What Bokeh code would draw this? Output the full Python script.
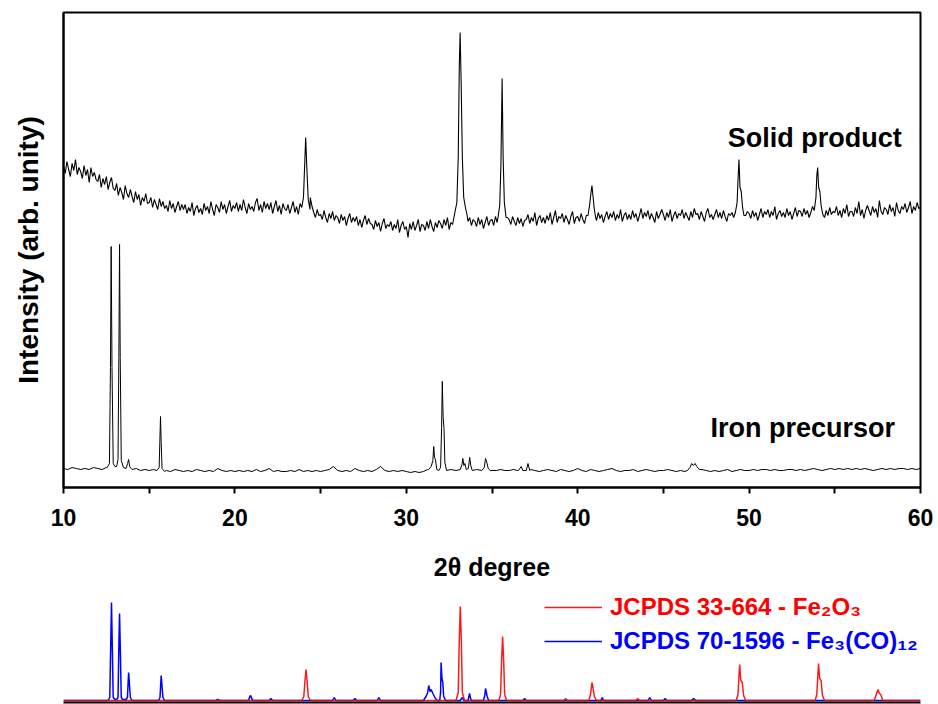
import numpy as np
from bokeh.plotting import figure
from bokeh.models import Range1d, FixedTicker, Label, Legend, LegendItem
from bokeh.layouts import column
from bokeh.embed import file_html
from bokeh.resources import INLINE

FONT = "Liberation Sans"

# ---------------- data ----------------
# Solid product: background read on a 0.1 degree grid, 10.0 .. 60.0
solid_grid_start = 10.0
solid_grid_step = 0.1
solid_bg = [
    322, 314, 326, 318, 311, 324, 317, 328, 313, 320,
    316, 309, 322, 312, 318, 305, 320, 311, 315, 308,
    306, 313, 300, 309, 303, 311, 298, 305, 310, 299,
    297, 304, 292, 300, 295, 288, 302, 294, 290, 298,
    291, 285, 296, 288, 293, 282, 290, 286, 294, 284,
    285, 290, 280, 288, 283, 278, 289, 281, 286, 279,
    282, 276, 287, 279, 284, 275, 281, 286, 277, 283,
    278, 283, 274, 280, 276, 285, 272, 279, 282, 275,
    279, 273, 284, 277, 281, 274, 286, 278, 272, 283,
    280, 275, 286, 278, 283, 274, 281, 287, 276, 282,
    279, 285, 276, 283, 277, 288, 280, 274, 284, 278,
    281, 276, 285, 289, 277, 283, 275, 286, 279, 284,
    278, 285, 274, 281, 287, 276, 282, 273, 284, 279,
    277, 283, 274, 280, 286, 275, 281, 273, 284, 278,
    276, 282, 279, 283, 290, 281, 275, 270, 278, 272,
    273, 268, 277, 270, 265, 274, 269, 276, 267, 272,
    270, 264, 273, 267, 271, 262, 269, 274, 265, 270,
    266, 271, 262, 268, 260, 267, 272, 263, 269, 264,
    263, 258, 267, 261, 265, 256, 264, 269, 259, 263,
    261, 266, 257, 263, 259, 268, 255, 262, 266, 258,
    261, 250, 264, 258, 266, 257, 262, 268, 256, 263,
    262, 257, 266, 259, 268, 261, 256, 265, 260, 267,
    264, 259, 268, 262, 270, 258, 265, 263, 269, 266,
    268, 275, 271, 277, 272, 274, 266, 270, 262, 268,
    266, 261, 270, 263, 268, 259, 265, 271, 262, 267,
    268, 262, 271, 265, 274, 272, 276, 272, 266, 270,
    268, 263, 271, 266, 262, 270, 264, 269, 261, 267,
    268, 273, 264, 270, 266, 275, 262, 269, 272, 265,
    270, 264, 272, 267, 275, 263, 270, 277, 265, 271,
    269, 274, 265, 272, 268, 263, 271, 276, 264, 270,
    271, 266, 274, 268, 264, 272, 276, 273, 269, 275,
    272, 267, 275, 269, 273, 265, 271, 276, 268, 274,
    270, 276, 267, 273, 269, 278, 266, 272, 275, 268,
    273, 268, 277, 270, 274, 266, 272, 279, 269, 275,
    271, 277, 268, 274, 270, 265, 276, 269, 273, 278,
    273, 267, 275, 270, 278, 266, 272, 276, 269, 274,
    272, 278, 269, 275, 271, 267, 276, 270, 279, 273,
    274, 268, 276, 271, 266, 275, 279, 270, 273, 268,
    273, 278, 270, 275, 269, 277, 271, 266, 274, 272,
    275, 270, 278, 274, 277, 271, 276, 278, 272, 276,
    274, 269, 277, 271, 275, 267, 273, 279, 270, 276,
    273, 278, 270, 276, 272, 281, 268, 274, 277, 271,
    275, 270, 279, 272, 276, 268, 274, 280, 271, 277,
    276, 271, 279, 273, 277, 270, 275, 281, 274, 279,
    276, 278, 275, 274, 270, 277, 272, 280, 273, 276,
    275, 281, 272, 277, 270, 279, 274, 283, 271, 276,
    276, 271, 280, 274, 286, 272, 278, 269, 277, 282,
    277, 272, 281, 275, 279, 270, 287, 276, 273, 280,
    278, 273, 283, 276, 280, 271, 285, 277, 274, 281,
    278, 284, 275, 280, 286, 274, 281, 277, 285, 279,
    280,
]
# Solid product peaks (x, intensity) read point by point
solid_peaks = [
    [(23.9, 280), (24.0, 290), (24.07, 322), (24.13, 350), (24.2, 318), (24.28, 288), (24.38, 278)],
    [(32.8, 272), (32.95, 285), (33.03, 330), (33.09, 420), (33.14, 455), (33.2, 405), (33.27, 330),
     (33.35, 290), (33.45, 280), (33.55, 272)],
    [(35.35, 270), (35.45, 282), (35.52, 322), (35.59, 409), (35.65, 330), (35.72, 285), (35.82, 270)],
    [(40.6, 272), (40.7, 283), (40.77, 294), (40.83, 302), (40.9, 290), (40.97, 278), (41.05, 270)],
    [(49.2, 275), (49.3, 285), (49.36, 310), (49.41, 328), (49.47, 300), (49.54, 296), (49.62, 280), (49.7, 272)],
    [(53.8, 277), (53.9, 290), (53.95, 312), (54.0, 320), (54.06, 300), (54.13, 296), (54.2, 282), (54.3, 273)],
]

# Iron precursor: background read on a 0.25 degree grid, 10.0 .. 60.0
prec_grid_start = 10.0
prec_grid_step = 0.25
prec_bg = [
    19, 18, 20, 19,   # 10
    18, 19, 18, 20,   # 11
    19, 18, 20, 21,   # 12
    22, 21, 20, 19,   # 13
    18, 19, 17, 18,   # 14
    17, 18, 17, 18,   # 15
    17, 16, 18, 17,   # 16
    16, 17, 16, 18,   # 17
    17, 16, 17, 16,   # 18
    19, 17, 16, 17,   # 19
    16, 17, 16, 17,   # 20
    16, 18, 16, 17,   # 21
    19, 16, 17, 16,   # 22
    16, 17, 16, 18,   # 23
    16, 17, 16, 17,   # 24
    16, 17, 18, 21,   # 25
    17, 16, 17, 16,   # 26
    19, 17, 16, 17,   # 27
    16, 18, 21, 17,   # 28
    16, 17, 16, 17,   # 29
    16, 15, 16, 15,   # 30
    16, 18, 17, 18,   # 31
    17, 18, 17, 18,   # 32
    17, 18, 17, 18,   # 33
    17, 18, 17, 18,   # 34
    17, 17, 18, 17,   # 35
    17, 18, 17, 16,   # 36
    17, 18, 17, 16,   # 37
    17, 18, 17, 16,   # 38
    18, 17, 16, 17,   # 39
    19, 17, 16, 18,   # 40
    17, 16, 17, 18,   # 41
    19, 17, 16, 17,   # 42
    17, 18, 16, 17,   # 43
    18, 17, 16, 17,   # 44
    17, 18, 17, 16,   # 45
    17, 16, 17, 18,   # 46
    17, 18, 17, 16,   # 47
    17, 16, 17, 18,   # 48
    16, 17, 18, 17,   # 49
    17, 18, 17, 18,   # 50
    18, 17, 18, 17,   # 51
    17, 18, 18, 17,   # 52
    18, 17, 18, 19,   # 53
    18, 17, 18, 19,   # 54
    18, 19, 18, 19,   # 55
    18, 19, 18, 19,   # 56
    18, 17, 18, 19,   # 57
    18, 19, 18, 19,   # 58
    19, 18, 19, 18,   # 59
    19,               # 60
]
prec_peaks = [
    [(12.55, 20), (12.68, 24), (12.74, 120), (12.78, 241), (12.83, 120), (12.9, 24), (13.0, 21),
     (13.1, 21), (13.18, 28), (13.23, 130), (13.27, 243), (13.31, 130), (13.37, 27), (13.5, 20),
     (13.65, 19), (13.74, 24), (13.8, 28), (13.86, 21), (13.95, 19)],
    [(15.45, 17), (15.58, 20), (15.62, 45), (15.66, 71), (15.7, 45), (15.75, 19), (15.9, 16)],
    [(31.3, 18), (31.45, 21), (31.55, 27), (31.6, 41), (31.65, 30), (31.7, 28), (31.78, 18), (31.9, 17),
     (32.0, 20), (32.06, 60), (32.1, 106), (32.15, 70), (32.2, 59), (32.25, 25), (32.35, 17), (32.6, 18),
     (32.9, 17), (33.15, 18), (33.25, 23), (33.3, 29), (33.36, 22), (33.42, 24), (33.5, 18), (33.62, 19),
     (33.7, 30), (33.76, 22), (33.85, 17), (34.1, 18), (34.4, 17), (34.55, 20), (34.62, 29), (34.7, 25),
     (34.78, 19), (34.9, 17)],
    [(36.55, 17), (36.7, 21), (36.8, 17), (37.0, 17), (37.1, 24), (37.2, 17)],
    [(46.4, 17), (46.55, 20), (46.65, 24), (46.75, 22), (46.85, 24), (46.95, 21), (47.1, 18)],
]

# Reference patterns (bottom panel)
fe2o3_x = [10.0, 23.9, 24.02, 24.08, 24.15, 24.22, 24.28, 24.4,
           32.9, 33.03, 33.09, 33.15, 33.21, 33.27, 33.4,
           35.4, 35.5, 35.56, 35.62, 35.68, 35.74, 35.85,
           39.2, 39.3, 39.4,
           40.65, 40.75, 40.83, 40.9, 40.97, 41.1,
           43.4, 43.5, 43.6,
           49.25, 49.35, 49.45, 49.52, 49.6, 49.68, 49.8,
           53.85, 53.95, 54.05, 54.12, 54.2, 54.28, 54.4,
           57.3, 57.42, 57.52, 57.6, 57.68, 57.8, 60.0]
fe2o3_y = [0, 0, 4, 18, 31, 18, 4, 0,
           0, 8, 60, 94, 60, 8, 0,
           0, 6, 40, 64, 40, 6, 0,
           0, 2, 0,
           0, 6, 18, 12, 4, 0,
           0, 2, 0,
           0, 6, 36, 20, 18, 5, 0,
           0, 6, 37, 22, 20, 5, 0,
           0, 6, 11, 7, 6, 0, 0]

fe3co12_x = [10.0, 12.6, 12.7, 12.76, 12.8, 12.84, 12.9, 13.0,
             13.1, 13.18, 13.23, 13.27, 13.31, 13.37, 13.45,
             13.65, 13.73, 13.77, 13.8, 13.84, 13.9, 14.0,
             15.55, 15.63, 15.67, 15.7, 15.74, 15.8, 15.9,
             18.9, 19.0, 19.1,
             20.8, 20.87, 20.92, 20.98, 21.05,
             22.0, 22.1, 22.2,
             25.7, 25.8, 25.9,
             26.9, 27.0, 27.1,
             28.3, 28.4, 28.5,
             31.0, 31.15, 31.25, 31.31, 31.38, 31.45, 31.55, 31.7, 31.8,
             31.95, 32.0, 32.03, 32.08, 32.13, 32.18, 32.3,
             33.15, 33.26, 33.35,
             33.6, 33.69, 33.78,
             34.5, 34.58, 34.62, 34.67, 34.72, 34.8,
             36.8, 36.9, 37.0,
             41.35, 41.43, 41.5,
             44.1, 44.2, 44.3,
             45.0, 45.1, 45.2,
             46.65, 46.76, 46.9, 60.0]
fe3co12_y = [0, 0, 3, 60, 98, 60, 3, 1,
             1, 3, 55, 87, 55, 3, 1,
             1, 3, 18, 28, 18, 3, 0,
             0, 3, 16, 25, 16, 3, 0,
             0, 1, 0,
             0, 4, 5, 2, 0,
             0, 2, 0,
             0, 3, 0,
             0, 2, 0,
             0, 3, 0,
             0, 4, 8, 15, 9, 11, 7, 2, 0,
             0, 8, 38, 22, 18, 4, 0,
             0, 3, 0,
             0, 7, 0,
             0, 5, 12, 8, 4, 0,
             0, 2, 0,
             0, 3, 0,
             0, 3, 0,
             0, 2, 0,
             0, 2, 0, 0]

x_ticks = [10, 20, 30, 40, 50, 60]
x_minor = [15, 25, 35, 45, 55]


def merge(start, step, bg, peaks):
    pts = [(round(start + i * step, 3), v) for i, v in enumerate(bg)]
    for pk in peaks:
        lo, hi = pk[0][0], pk[-1][0]
        pts = [p for p in pts if p[0] < lo or p[0] > hi]
        pts.extend(pk)
    pts.sort()
    return [p[0] for p in pts], [p[1] for p in pts]


solid_x, solid_y = merge(solid_grid_start, solid_grid_step, solid_bg, solid_peaks)
prec_x, prec_y = merge(prec_grid_start, prec_grid_step, prec_bg, prec_peaks)

# ---------------- main figure ----------------
xr = Range1d(10, 60)
p = figure(width=938, height=585, x_range=xr, y_range=Range1d(0, 475),
           output_backend="svg", toolbar_location=None,
           min_border_left=63, min_border_right=18, min_border_top=12, min_border_bottom=98)
p.grid.visible = False
p.outline_line_color = "black"
p.outline_line_width = 2
p.background_fill_color = "white"
p.border_fill_color = "white"

p.line(solid_x, solid_y, line_color="black", line_width=1.1)
p.line(prec_x, prec_y, line_color="black", line_width=1)

xa = p.xaxis[0]
xa.ticker = FixedTicker(ticks=x_ticks, minor_ticks=x_minor)
xa.axis_line_width = 2
xa.major_tick_line_width = 2
xa.minor_tick_line_width = 2
xa.major_tick_out = 6
xa.major_tick_in = 0
xa.minor_tick_out = 6
xa.minor_tick_in = 0
xa.major_label_text_font = FONT
xa.major_label_text_font_size = "23px"
xa.major_label_text_font_style = "bold"
xa.major_label_text_color = "black"
xa.major_label_standoff = 15
xa.axis_label = "2θ degree"
xa.axis_label_text_font = FONT
xa.axis_label_text_font_size = "25px"
xa.axis_label_text_font_style = "bold"
xa.axis_label_text_color = "black"
xa.axis_label_standoff = 24

ya = p.yaxis[0]
ya.ticker = FixedTicker(ticks=[])
ya.axis_line_width = 2
ya.major_tick_line_color = None
ya.minor_tick_line_color = None
ya.axis_label = "Intensity (arb. unity)"
ya.axis_label_text_font = FONT
ya.axis_label_text_font_size = "28px"
ya.axis_label_text_font_style = "bold"
ya.axis_label_text_color = "black"
ya.axis_label_standoff = 20

p.add_layout(Label(x=48.75, y=350, text="Solid product", text_font=FONT,
                   text_font_size="27px", text_font_style="bold", text_color="black",
                   text_align="left", text_baseline="alphabetic"))
p.add_layout(Label(x=47.75, y=60, text="Iron precursor", text_font=FONT,
                   text_font_size="27px", text_font_style="bold", text_color="black",
                   text_align="left", text_baseline="alphabetic"))

# ---------------- reference panel ----------------
# frame spans the whole panel height (1 data unit = 1 px); baseline 2 px above the axis
q = figure(width=938, height=119, x_range=xr, y_range=Range1d(-2, 115),
           output_backend="svg", toolbar_location=None, y_axis_location=None,
           min_border_left=63, min_border_right=18, min_border_top=0, min_border_bottom=2)
q.grid.visible = False
q.outline_line_color = None
rb = q.line(fe3co12_x, fe3co12_y, line_color="blue", line_width=1.5)
rr = q.line(fe2o3_x, fe2o3_y, line_color="red", line_width=1.5, line_alpha=0.9)
qa = q.xaxis[0]
qa.ticker = FixedTicker(ticks=[])
qa.axis_line_width = 2
qa.axis_line_color = "black"
qa.major_tick_line_color = None
qa.minor_tick_line_color = None
qa.major_label_text_font_size = "0px"
qa.major_label_standoff = 0

for lab, rend, col, loc in [("JCPDS 33-664 - Fe₂O₃", rr, "red", (481, 81)),
                            ("JCPDS 70-1596 - Fe₃(CO)₁₂", rb, "blue", (481, 47))]:
    lg = Legend(items=[LegendItem(label=lab, renderers=[rend])], location=loc,
                label_text_font=FONT, label_text_font_size="24px", label_text_font_style="bold",
                label_text_color=col, background_fill_alpha=0, border_line_alpha=0,
                padding=0, margin=0, glyph_width=58, glyph_height=26, label_height=26,
                label_standoff=8)
    q.add_layout(lg)

layout = column(p, q, spacing=0)
open("out.html", "w").write(file_html(layout, INLINE))
